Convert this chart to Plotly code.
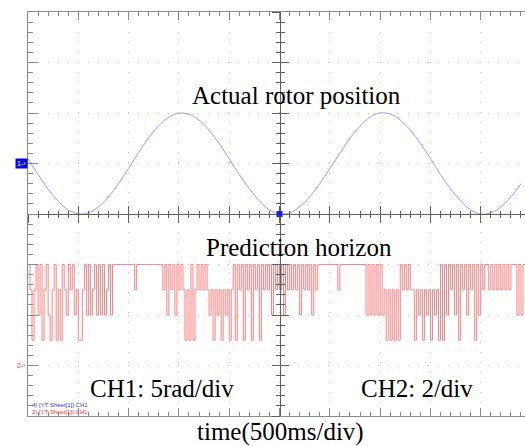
import plotly.graph_objects as go

# screen: 500 ms/div horizontally, 8 divisions vertically (right edge cropped)
t_max = 4.94

# CH1 - actual rotor position [rad], read every 100 ms (5 rad/div, offset +1 div)
pos_t = [i / 10 for i in range(50)]
pos_rad = [0.47, -1.09, -2.55, -3.75, -4.59, -4.98, -4.88, -4.30, -3.31, -1.99,
           -0.47, 1.09, 2.55, 3.75, 4.59, 4.98, 4.88, 4.30, 3.31, 1.99,
           0.45, -1.10, -2.50, -3.70, -4.60, -5.00, -4.90, -4.30, -3.30, -2.00,
           -0.50, 1.00, 2.50, 3.70, 4.60, 5.00, 4.90, 4.30, 3.30, 2.00,
           0.50, -1.10, -2.50, -3.70, -4.60, -5.00, -4.90, -4.30, -3.30, -2.00]
ch1_scale = 5.0
ch1_offset = 1.0

# CH2 - prediction horizon (1..4), one level every 20 ms (2/div, offset -3 div)
horizon_dt = 0.02
horizon_str = (
    "4313424134213413143243423113"   # 0.00 s
    "42423424242342"
    "444444444443444444444444"       # flat section
    "43424342434"
    "3131413"
    "43434"
    "3231323132313"
    "4143414341434143"
    "434243434243434342434342434"
    "4444444443444444444444"         # flat section
    "4242424242"
    "31313131"
    "434343"
    "31323132313231"
    "41424342414342434142434"
    "4343434343434"
    "44242444"
)
horizon = [int(c) for c in horizon_str]
horizon_t = [i * horizon_dt for i in range(len(horizon))]
ch2_scale = 2.0
ch2_offset = -3.0

pos_div = [ch1_offset + v / ch1_scale for v in pos_rad]
hor_div = [ch2_offset + v / ch2_scale for v in horizon]

fig = go.Figure()
fig.add_trace(go.Scatter(x=pos_t, y=pos_div, mode="lines",
                         line=dict(color="#9a9aff", width=1, shape="spline"),
                         hoverinfo="skip"))
fig.add_trace(go.Scatter(x=horizon_t, y=hor_div, mode="lines",
                         line=dict(color="#ff8080", width=1, shape="hv"),
                         hoverinfo="skip"))
# dummies so the centre cross axes get drawn
fig.add_trace(go.Scatter(x=[], y=[], xaxis="x2", yaxis="y2"))
fig.add_trace(go.Scatter(x=[], y=[], xaxis="x3", yaxis="y3"))

axcol = "#8c8c8c"
gridcol = "#c4c4c4"

fig.update_layout(
    width=525, height=446,
    margin=dict(l=28, r=0, t=12, b=30),
    paper_bgcolor="white", plot_bgcolor="white",
    showlegend=False,
    xaxis=dict(range=[0, t_max], dtick=0.5, tick0=0, showticklabels=False,
               showgrid=True, gridcolor=gridcol, griddash="1px,9px", gridwidth=1,
               zeroline=False, showline=True, linecolor=axcol, linewidth=1,
               mirror="ticks", ticks="inside", ticklen=8, tickcolor=axcol,
               minor=dict(dtick=0.1, ticks="inside", ticklen=4, tickcolor=axcol,
                          showgrid=False)),
    yaxis=dict(range=[-4, 4], dtick=1, tick0=0, showticklabels=False,
               showgrid=True, gridcolor=gridcol, griddash="1px,9px", gridwidth=1,
               zeroline=False, showline=True, linecolor=axcol, linewidth=1,
               ticks="inside", ticklen=10, tickcolor=axcol,
               minor=dict(dtick=0.2, ticks="inside", ticklen=5, tickcolor=axcol,
                          showgrid=False)),
    xaxis2=dict(overlaying="x", anchor="free", position=0.5, range=[0, t_max],
                dtick=0.5, tick0=0, showticklabels=False, showgrid=False,
                zeroline=False, showline=True, linecolor="#606060", linewidth=1,
                ticks="outside", ticklen=8, tickcolor="#606060",
                minor=dict(dtick=0.1, ticks="outside", ticklen=3, tickcolor="#606060")),
    xaxis3=dict(overlaying="x", anchor="free", position=0.5, range=[0, t_max],
                dtick=0.5, tick0=0, showticklabels=False, showgrid=False,
                zeroline=False, showline=False,
                ticks="inside", ticklen=8, tickcolor="#606060",
                minor=dict(dtick=0.1, ticks="inside", ticklen=3, tickcolor="#606060")),
    yaxis2=dict(overlaying="y", anchor="free", position=2.5 / t_max, range=[-4, 4],
                dtick=1, tick0=0, showticklabels=False, showgrid=False,
                zeroline=False, showline=True, linecolor="#606060", linewidth=1,
                ticks="outside", ticklen=8, tickcolor="#606060",
                minor=dict(dtick=0.2, ticks="outside", ticklen=4, tickcolor="#606060")),
    yaxis3=dict(overlaying="y", anchor="free", position=2.5 / t_max, range=[-4, 4],
                dtick=1, tick0=0, showticklabels=False, showgrid=False,
                zeroline=False, showline=False,
                ticks="inside", ticklen=8, tickcolor="#606060",
                minor=dict(dtick=0.2, ticks="inside", ticklen=4, tickcolor="#606060")),
)

serif = "Liberation Serif, Times New Roman, serif"
labels = [
    ("Actual rotor position", 2.67, 2.34),
    ("Prediction horizon", 2.69, -0.66),
    ("CH1: 5rad/div", 1.33, -3.45),
    ("CH2: 2/div", 3.87, -3.45),
]
for txt, lx, ly in labels:
    fig.add_annotation(x=lx, y=ly, xref="x", yref="y", text=txt, showarrow=False,
                       font=dict(family=serif, size=25, color="black"),
                       xanchor="center", yanchor="middle")

fig.add_annotation(x=0.509, y=-0.04, xref="paper", yref="paper",
                   text="time(500ms/div)", showarrow=False,
                   font=dict(family=serif, size=25, color="black"),
                   xanchor="center", yanchor="middle")

# channel ground markers
fig.add_annotation(x=0, y=ch1_offset, xref="paper", yref="y", text="1-›",
                   showarrow=False, xanchor="right", yanchor="middle",
                   font=dict(family="Liberation Sans", size=7, color="white"),
                   bgcolor="#0000ff", borderpad=1)
fig.add_annotation(x=0, y=ch2_offset, xref="paper", yref="y", text="2-›",
                   showarrow=False, xanchor="right", yanchor="middle",
                   font=dict(family="Liberation Sans", size=7, color="#ff4040"))

# source labels at bottom left
fig.add_annotation(x=0.004, y=-3.78, xref="paper", yref="y",
                   text="4) [YT Sheet[1]].CH1", showarrow=False,
                   xanchor="left", yanchor="middle",
                   font=dict(family="Liberation Sans", size=6, color="#3030ff"))
fig.add_annotation(x=0.004, y=-3.93, xref="paper", yref="y",
                   text="2) [YT Sheet[1]].CH1", showarrow=False,
                   xanchor="left", yanchor="middle",
                   font=dict(family="Liberation Sans", size=6, color="#ff3030"))

# trigger marker on the centre cross
fig.add_shape(type="rect", xref="x", yref="y", xsizemode="pixel", ysizemode="pixel",
              xanchor=2.5, yanchor=0, x0=-3, x1=3, y0=-3, y1=3,
              fillcolor="#2020ff", line=dict(width=0))

# page body has a default 8px margin, drop it so the figure fills the window
fig.write_html("out.html", config={"displayModeBar": False},
               post_script="document.body.style.margin='0';")
